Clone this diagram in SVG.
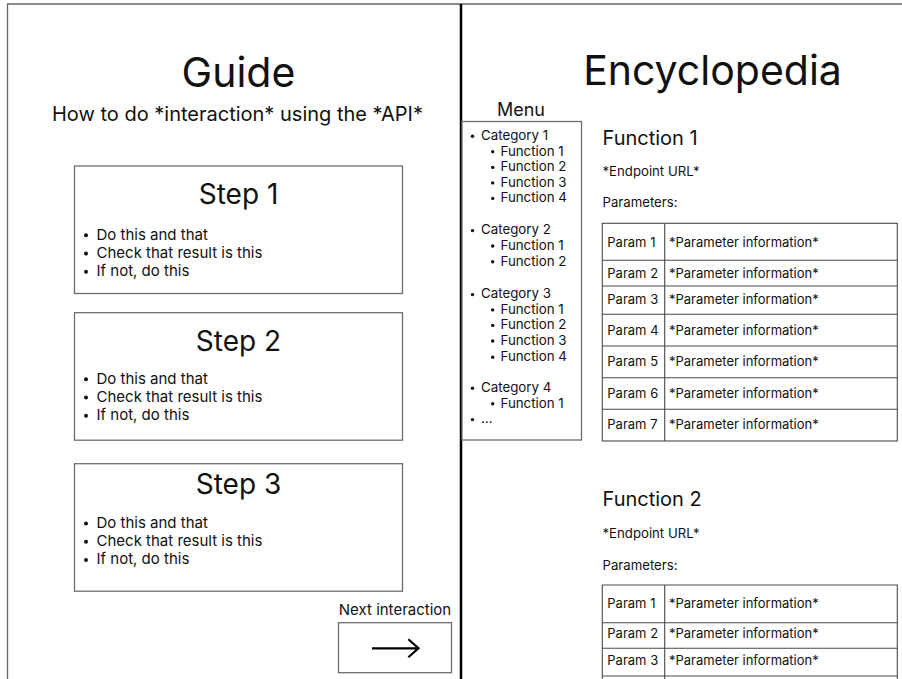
<svg xmlns="http://www.w3.org/2000/svg" width="902" height="679" viewBox="0 0 902 679">
  <style>
    text { font-family: Inter, "Noto Sans", "Liberation Sans", sans-serif; fill: #111; }
    .h1 { font-size: 41px; text-anchor: middle; }
    .sub { font-size: 20px; text-anchor: middle; }
    .step-title { font-size: 28px; text-anchor: middle; }
    .li { font-size: 15px; }
    .menu-title { font-size: 18px; text-anchor: middle; }
    .menu { font-size: 13.3px; }
    .fn-title { font-size: 20px; }
    .small { font-size: 13.2px; }
    .cell { font-size: 13px; }
    .box { fill: #fff; stroke: #6e6e6e; stroke-width: 1.3; }
    .grid { fill: none; stroke: #4a4a4a; stroke-width: 1.1; }
    .dot { fill: #111; }
  </style>
  <defs>
    <!-- bullet dots reused by every list -->
    <circle id="b" r="2" class="dot"/>
    <circle id="bs" r="1.7" class="dot"/>
    <!-- three-line checklist used inside each step card -->
    <g id="steps">
      <use href="#b" x="86" y="-4.3"/>
      <text class="li" x="96.5" y="0">Do this and that</text>
      <use href="#b" x="86" y="14"/>
      <text class="li" x="96.5" y="18.3">Check that result is this</text>
      <use href="#b" x="86" y="32.3"/>
      <text class="li" x="96.5" y="36.6">If not, do this</text>
    </g>
  </defs>

  <rect width="902" height="679" fill="#fff"/>

  <!-- page frame and the divider between the two panes -->
  <g id="frame">
    <path d="M7.5 690 V4 H902" fill="none" stroke="#666" stroke-width="1.3"/>
    <line x1="461" y1="4" x2="461" y2="679" stroke="#000" stroke-width="2.5"/>
  </g>

  <!-- left pane: guide -->
  <g id="guide-header">
    <text class="h1" x="238.5" y="87">Guide</text>
    <text class="sub" x="237.5" y="121">How to do *interaction* using the *API*</text>
  </g>

  <g id="step1">
    <rect class="box" x="74.5" y="166" width="328" height="127.5"/>
    <text class="step-title" x="238.5" y="204">Step 1</text>
    <use href="#steps" y="239.5"/>
  </g>

  <g id="step2">
    <rect class="box" x="74.5" y="312.7" width="328" height="127.5"/>
    <text class="step-title" x="238.5" y="350.7">Step 2</text>
    <use href="#steps" y="383.5"/>
  </g>

  <g id="step3">
    <rect class="box" x="74.5" y="463.7" width="328" height="127.5"/>
    <text class="step-title" x="238.5" y="494">Step 3</text>
    <use href="#steps" y="527.7"/>
  </g>

  <g id="next-button">
    <text class="li" x="395" y="615" text-anchor="middle">Next interaction</text>
    <rect class="box" x="338.5" y="622.7" width="113" height="50"/>
    <path d="M372 648.3 H418.5 M408.3 639.3 L418.5 648.3 L408.3 657.3" fill="none" stroke="#000" stroke-width="2.2" stroke-linejoin="miter"/>
  </g>

  <!-- right pane: encyclopedia -->
  <g id="encyclopedia-header">
    <text class="h1" x="712.5" y="85">Encyclopedia</text>
  </g>

  <g id="menu">
    <text class="menu-title" x="521" y="116">Menu</text>
    <rect class="box" x="462" y="121.5" width="119.5" height="318.5"/>
    <use href="#bs" x="472.5" y="136.3"/><text class="menu" x="481" y="140">Category 1</text>
    <use href="#bs" x="492.7" y="151.8"/><text class="menu" x="500.5" y="155.8">Function 1</text>
    <use href="#bs" x="492.7" y="167.4"/><text class="menu" x="500.5" y="171.4">Function 2</text>
    <use href="#bs" x="492.7" y="182.9"/><text class="menu" x="500.5" y="186.9">Function 3</text>
    <use href="#bs" x="492.7" y="198.4"/><text class="menu" x="500.5" y="202.4">Function 4</text>

    <use href="#bs" x="472.5" y="230.6"/><text class="menu" x="481" y="234.3">Category 2</text>
    <use href="#bs" x="492.7" y="246"/><text class="menu" x="500.5" y="250">Function 1</text>
    <use href="#bs" x="492.7" y="261.7"/><text class="menu" x="500.5" y="265.7">Function 2</text>

    <use href="#bs" x="472.5" y="294.6"/><text class="menu" x="481" y="298.3">Category 3</text>
    <use href="#bs" x="492.7" y="309.9"/><text class="menu" x="500.5" y="313.9">Function 1</text>
    <use href="#bs" x="492.7" y="325.4"/><text class="menu" x="500.5" y="329.4">Function 2</text>
    <use href="#bs" x="492.7" y="341"/><text class="menu" x="500.5" y="345">Function 3</text>
    <use href="#bs" x="492.7" y="357.3"/><text class="menu" x="500.5" y="361.3">Function 4</text>

    <use href="#bs" x="472.5" y="388.3"/><text class="menu" x="481" y="392">Category 4</text>
    <use href="#bs" x="492.7" y="403.7"/><text class="menu" x="500.5" y="407.7">Function 1</text>
    <use href="#bs" x="472.5" y="419.6"/><text class="menu" x="481" y="423.3">…</text>
  </g>

  <g id="function1">
    <text class="fn-title" x="602.5" y="145">Function 1</text>
    <text class="small" x="602.5" y="176">*Endpoint URL*</text>
    <text class="small" x="602.5" y="207.3">Parameters:</text>
    <rect class="grid" x="602.3" y="223.3" width="295" height="217.7"/>
    <path class="grid" d="M664.7 223.3 V441 M602.3 260.3 H897.3 M602.3 286 H897.3 M602.3 314.3 H897.3 M602.3 346 H897.3 M602.3 377.7 H897.3 M602.3 409.3 H897.3"/>
    <text class="cell" x="607.3" y="246.7">Param 1</text><text class="cell" x="669" y="246.7">*Parameter information*</text>
    <text class="cell" x="607.3" y="277.5">Param 2</text><text class="cell" x="669" y="277.5">*Parameter information*</text>
    <text class="cell" x="607.3" y="304.2">Param 3</text><text class="cell" x="669" y="304.2">*Parameter information*</text>
    <text class="cell" x="607.3" y="334.5">Param 4</text><text class="cell" x="669" y="334.5">*Parameter information*</text>
    <text class="cell" x="607.3" y="366">Param 5</text><text class="cell" x="669" y="366">*Parameter information*</text>
    <text class="cell" x="607.3" y="397.5">Param 6</text><text class="cell" x="669" y="397.5">*Parameter information*</text>
    <text class="cell" x="607.3" y="429.3">Param 7</text><text class="cell" x="669" y="429.3">*Parameter information*</text>
  </g>

  <g id="function2">
    <text class="fn-title" x="602.5" y="506">Function 2</text>
    <text class="small" x="602.5" y="537.7">*Endpoint URL*</text>
    <text class="small" x="602.5" y="570">Parameters:</text>
    <path class="grid" d="M602.3 690 V585 H897.3 V690 M664.7 585 V690 M602.3 622.7 H897.3 M602.3 648.3 H897.3 M602.3 676 H897.3"/>
    <text class="cell" x="607.3" y="608.3">Param 1</text><text class="cell" x="669" y="608.3">*Parameter information*</text>
    <text class="cell" x="607.3" y="638.3">Param 2</text><text class="cell" x="669" y="638.3">*Parameter information*</text>
    <text class="cell" x="607.3" y="665">Param 3</text><text class="cell" x="669" y="665">*Parameter information*</text>
  </g>
</svg>
